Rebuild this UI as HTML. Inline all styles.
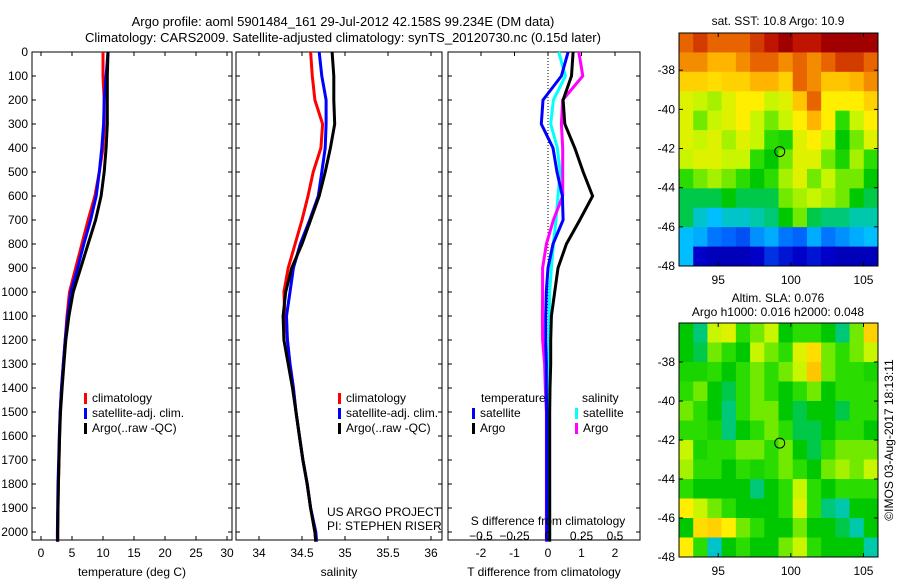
<!DOCTYPE html>
<html><head><meta charset="utf-8"><style>
body{margin:0;background:#fff;width:900px;height:580px;overflow:hidden}
svg{font-family:"Liberation Sans",sans-serif;font-size:12px}
</style></head><body>
<svg id="c" width="900" height="580"></svg>
<script>
const depths=[0,100,200,300,400,500,600,700,800,900,1000,1100,1200,1300,1400,1500,1600,1700,1800,1900,2000,2040];
const tClim=[10.0,10.0,10.2,10.2,10.0,9.4,8.7,7.6,6.6,5.6,4.6,4.2,3.9,3.6,3.3,3.1,3.0,2.9,2.8,2.75,2.7,2.7];
const tSat=[10.8,10.5,10.2,10.1,9.8,9.4,8.9,8.0,6.9,5.9,4.8,4.3,3.9,3.6,3.3,3.1,2.95,2.85,2.75,2.7,2.65,2.65];
const tArgo=[10.8,10.7,10.7,10.7,10.5,10.2,9.7,8.8,7.6,6.4,5.2,4.5,4.0,3.7,3.4,3.15,3.0,2.9,2.8,2.75,2.7,2.7];
const sClim=[34.60,34.62,34.65,34.74,34.72,34.63,34.57,34.50,34.42,34.34,34.29,34.30,34.33,34.36,34.40,34.43,34.47,34.51,34.56,34.60,34.65,34.66];
const sSat=[34.70,34.73,34.78,34.78,34.77,34.73,34.69,34.59,34.48,34.40,34.36,34.32,34.33,34.36,34.40,34.43,34.47,34.51,34.56,34.60,34.66,34.67];
const sArgo=[34.85,34.87,34.87,34.88,34.83,34.77,34.70,34.60,34.50,34.38,34.31,34.28,34.29,34.34,34.39,34.43,34.47,34.51,34.56,34.60,34.65,34.66];
const dTsat=[0.6,0.4,-0.15,-0.2,0.15,0.27,0.43,0.45,0.15,0.0,-0.05,-0.07,-0.07,-0.05,-0.05,-0.04,-0.04,-0.04,-0.04,-0.04,-0.04,-0.04];
const dTargo=[0.75,0.7,0.45,0.5,0.8,1.05,1.33,0.95,0.55,0.3,0.2,0.1,0.08,0.08,0.06,0.05,0.05,0.05,0.05,0.05,0.05,0.05];
const dSsat=[0.08,0.13,0.04,0.02,0.07,0.09,0.075,0.06,0.04,0.025,0.013,0.01,0.008,0.008,0.008,0.008,0.008,0.01,0.012,0.012,0.012,0.012];
const dSargo=[0.23,0.26,0.11,0.1,0.11,0.11,0.11,0.04,-0.012,-0.04,-0.04,-0.042,-0.04,-0.025,-0.02,-0.012,-0.012,-0.012,-0.012,-0.012,-0.012,-0.012];
const tTicks=[0,5,10,15,20,25,30];
const sTicks=[34,34.5,35,35.5,36];
const dTTicks=[-2,-1,0,1,2];
const dSTicks=[-0.5,-0.25,0,0.25,0.5];
const depthTicks=[0,100,200,300,400,500,600,700,800,900,1000,1100,1200,1300,1400,1500,1600,1700,1800,1900,2000];
const lonTicks=[95,100,105];
const latTicks=[-38,-40,-42,-44,-46,-48];
const sstGrid=[
[0.85,0.9,0.85,0.85,0.85,0.9,0.95,1,0.95,0.95,1,1,1,1],
[0.8,0.8,0.75,0.75,0.8,0.85,0.85,0.8,0.85,0.8,0.85,0.9,0.9,0.85],
[0.7,0.7,0.68,0.7,0.7,0.75,0.75,0.7,0.85,0.8,0.72,0.72,0.75,0.8],
[0.62,0.6,0.58,0.62,0.65,0.65,0.6,0.62,0.72,0.85,0.65,0.65,0.65,0.7],
[0.62,0.55,0.6,0.62,0.65,0.6,0.55,0.6,0.65,0.75,0.65,0.5,0.6,0.65],
[0.62,0.6,0.62,0.58,0.62,0.6,0.5,0.48,0.62,0.65,0.6,0.45,0.55,0.62],
[0.6,0.62,0.62,0.6,0.6,0.5,0.45,0.55,0.62,0.62,0.55,0.48,0.58,0.5],
[0.5,0.55,0.58,0.55,0.5,0.45,0.5,0.58,0.62,0.55,0.6,0.55,0.55,0.45],
[0.42,0.42,0.42,0.45,0.42,0.42,0.42,0.55,0.58,0.6,0.58,0.55,0.45,0.42],
[0.42,0.35,0.3,0.35,0.35,0.38,0.4,0.45,0.55,0.42,0.4,0.4,0.38,0.38],
[0.3,0.28,0.22,0.2,0.18,0.25,0.28,0.22,0.2,0.28,0.22,0.25,0.28,0.3],
[0.3,0.1,0.08,0.08,0.08,0.1,0.15,0.12,0.1,0.12,0.1,0.08,0.08,0.08]];
const slaGrid=[
[0.45,0.4,0.6,0.62,0.5,0.55,0.6,0.45,0.5,0.5,0.45,0.4,0.55,0.7],
[0.45,0.42,0.55,0.5,0.45,0.6,0.55,0.5,0.62,0.68,0.55,0.5,0.55,0.6],
[0.48,0.48,0.5,0.45,0.5,0.55,0.5,0.55,0.6,0.72,0.55,0.5,0.5,0.48],
[0.5,0.55,0.45,0.42,0.5,0.55,0.5,0.45,0.5,0.55,0.45,0.5,0.5,0.5],
[0.55,0.5,0.45,0.4,0.5,0.55,0.55,0.45,0.42,0.45,0.45,0.42,0.5,0.5],
[0.5,0.5,0.48,0.4,0.45,0.5,0.55,0.5,0.42,0.42,0.45,0.5,0.5,0.45],
[0.6,0.48,0.5,0.5,0.55,0.55,0.5,0.55,0.45,0.42,0.5,0.55,0.55,0.55],
[0.58,0.5,0.5,0.45,0.5,0.48,0.5,0.55,0.5,0.45,0.55,0.58,0.55,0.6],
[0.5,0.45,0.45,0.45,0.45,0.4,0.45,0.5,0.6,0.5,0.45,0.5,0.5,0.5],
[0.65,0.6,0.55,0.5,0.45,0.45,0.45,0.5,0.62,0.5,0.4,0.38,0.45,0.45],
[0.45,0.68,0.7,0.65,0.55,0.5,0.45,0.45,0.55,0.45,0.45,0.42,0.38,0.45],
[0.65,0.5,0.35,0.45,0.5,0.45,0.45,0.55,0.6,0.5,0.45,0.45,0.45,0.38]];
const argoLon=99.234, argoLat=-42.158;

const NS="http://www.w3.org/2000/svg", svg=document.getElementById('c');
function el(t,a,p){const e=document.createElementNS(NS,t);for(const k in a)e.setAttribute(k,a[k]);(p||svg).appendChild(e);return e;}
function txt(x,y,s,anchor,p,extra){const e=el('text',Object.assign({x:x,y:y,'text-anchor':anchor||'middle',fill:'#000'},extra||{}),p);e.textContent=s;return e;}
const Y=d=>52+0.24*d;
const PT=52, PB=540;
function panel(name,x0,x1,xs,ticks,fmt,lbl,showDepth){
  const g=el('g',{});
  
  
  el('rect',{x:x0,y:PT,width:x1-x0,height:PB-PT,fill:'none',stroke:'#000','stroke-width':1},g);
  ticks.forEach(v=>{const x=xs(v);el('line',{x1:x,x2:x,y1:PT,y2:PT+4,stroke:'#000'},g);el('line',{x1:x,x2:x,y1:PB,y2:PB-4,stroke:'#000'},g);
    if(fmt){const t=txt(x,557,fmt(v),'middle',g);}});
  depthTicks.forEach(d=>{const y=Y(d);el('line',{x1:x0,x2:x0+4,y1:y,y2:y,stroke:'#000'},g);el('line',{x1:x1,x2:x1-4,y1:y,y2:y,stroke:'#000'},g);
    if(showDepth){const t=txt(28,y+4,String(d),'end',g);}});
  if(lbl){const t=txt((x0+x1)/2,576,lbl,'middle',g);}
  return g;
}
function line(g,vals,xs,color,name){
  const pts=vals.map((v,i)=>xs(v).toFixed(1)+','+Y(depths[i]).toFixed(1)).join(' ');
  const p=el('polyline',{points:pts,fill:'none',stroke:color,'stroke-width':3},g);
  
  
}
function legend(g,x,y,items){
  items.forEach((it,i)=>{el('rect',{x:x,y:y+i*15-9,width:3,height:11,fill:it[1]},g);
    const t=txt(x+8,y+i*15,it[0],'start',g);});
}
let t=txt(343,26,'Argo profile: aoml 5901484_161 29-Jul-2012 42.158S 99.234E (DM data)','middle',svg,{'font-size':'13'});

t=txt(343,42,'Climatology: CARS2009. Satellite-adjusted climatology: synTS_20120730.nc (0.15d later)','middle',svg,{'font-size':'13'});


const xT=v=>41+6.2*v;
const g1=panel('temperature-panel',32,232,xT,tTicks,v=>String(v),'temperature (deg C)',true);
line(g1,tClim,xT,'#f00','temp-climatology-line');line(g1,tSat,xT,'#00f','temp-satellite-line');line(g1,tArgo,xT,'#000','temp-argo-line');
legend(g1,84,402,[['climatology','#f00'],['satellite-adj. clim.','#00f'],['Argo(..raw -QC)','#000']]);

const xS=v=>259+86*(v-34);
const g2=panel('salinity-panel',236,442,xS,sTicks,v=>String(v),'salinity',false);
line(g2,sClim,xS,'#f00','sal-climatology-line');line(g2,sSat,xS,'#00f','sal-satellite-line');line(g2,sArgo,xS,'#000','sal-argo-line');
legend(g2,338,402,[['climatology','#f00'],['satellite-adj. clim.','#00f'],['Argo(..raw -QC)','#000']]);
t=txt(327,516,'US ARGO PROJECT','start',g2);
t=txt(327,530,'PI: STEPHEN RISER','start',g2);

const xD=v=>548+33.5*v, xDS=v=>548+134*v;
const g3=panel('difference-panel',448,640,xD,dTTicks,v=>String(v),'T difference from climatology',false);
el('line',{x1:548,x2:548,y1:PT,y2:PB,stroke:'#000','stroke-dasharray':'1,2'},g3);
line(g3,dSsat,xDS,'#0ff','sal-diff-satellite-line');line(g3,dSargo,xDS,'#f0f','sal-diff-argo-line');
line(g3,dTsat,xD,'#00f','temp-diff-satellite-line');line(g3,dTargo,xD,'#000','temp-diff-argo-line');
dSTicks.forEach(v=>{const tt=txt(xDS(v),540,String(v).replace('-','\u2212'),'middle',g3);});
t=txt(548,525,'S difference from climatology','middle',g3);
t=txt(481,402,'temperature','start',g3);
t=txt(582,402,'salinity','start',g3);
legend(g3,472,417,[['satellite','#00f'],['Argo','#000']]);
legend(g3,575,417,[['satellite','#0ff'],['Argo','#f0f']]);

const cmapStops=[[0,0,0,128],[0.1,0,0,200],[0.2,0,100,255],[0.3,0,190,255],[0.38,0,200,170],[0.45,0,200,0],[0.52,60,228,0],[0.6,200,245,0],[0.65,255,238,0],[0.75,255,180,0],[0.85,232,100,0],[0.95,190,20,0],[1,160,0,0]];
function cmap(v){v=Math.max(0,Math.min(1,v));
  for(let i=1;i<cmapStops.length;i++){const a=cmapStops[i-1],b=cmapStops[i];
    if(v<=b[0]){const f=(v-a[0])/(b[0]-a[0]);return 'rgb('+[1,2,3].map(k=>Math.round(a[k]+(b[k]-a[k])*f)).join(',')+')';}}
  return 'rgb(160,0,0)';}
function map(name,grid,x0,x1,y0,y1,lonA,lonB,latA,latB){
  const g=el('g',{});
  
  
  const lx=v=>x0+(v-lonA)/(lonB-lonA)*(x1-x0), ly=v=>y0+(latA-v)/(latA-latB)*(y1-y0);
  const rows=grid.length, cols=grid[0].length, cw=(x1-x0)/cols, ch=(y1-y0)/rows;
  grid.forEach((r,i)=>r.forEach((v,j)=>{const c=el('rect',{x:x0+j*cw,y:y0+i*ch,width:cw+0.5,height:ch+0.5,fill:cmap(v)},g);
    }));
  el('rect',{x:x0,y:y0,width:x1-x0,height:y1-y0,fill:'none',stroke:'#000'},g);
  lonTicks.forEach(v=>{const x=lx(v);el('line',{x1:x,x2:x,y1:y0,y2:y0+4,stroke:'#000'},g);el('line',{x1:x,x2:x,y1:y1,y2:y1-4,stroke:'#000'},g);
    const tt=txt(x,y1+18,String(v),'middle',g);});
  latTicks.forEach(v=>{const y=ly(v);el('line',{x1:x0,x2:x0+4,y1:y,y2:y,stroke:'#000'},g);el('line',{x1:x1,x2:x1-4,y1:y,y2:y,stroke:'#000'},g);
    const tt=txt(x0-4,y+4,String(v),'end',g);});
  const c=el('circle',{cx:lx(argoLon),cy:ly(argoLat),r:5,fill:'none',stroke:'#000'},g);
  
}
map('sst-map',sstGrid,679,878,33,266,92.3,106.0,-36.1,-48.0);
map('sla-map',slaGrid,679,878,323,557,92.3,106.0,-36.0,-48.0);
t=txt(778,25,'sat. SST: 10.8 Argo: 10.9','middle');
t=txt(778,302,'Altim. SLA: 0.076','middle');
t=txt(778,316,'Argo h1000: 0.016 h2000: 0.048','middle');
t=txt(0,0,'\u00a9IMOS 03-Aug-2017 18:13:11','middle',svg,{transform:'translate(893,440) rotate(-90)'});

</script>
</body></html>
